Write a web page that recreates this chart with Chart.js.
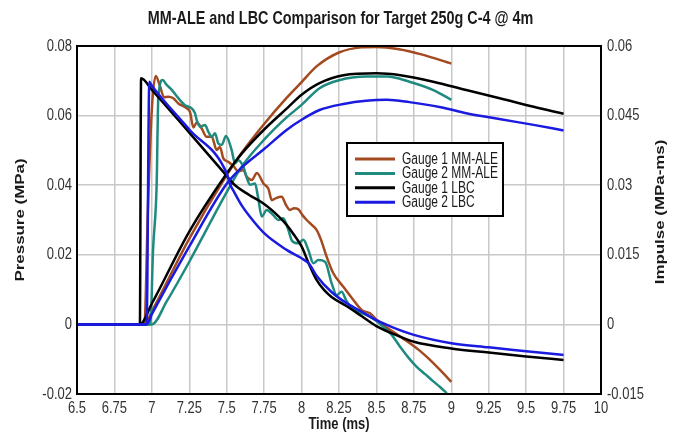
<!DOCTYPE html>
<html>
<head>
<meta charset="utf-8">
<script src="https://cdn.jsdelivr.net/npm/chart.js@4.4.1/dist/chart.umd.min.js"></script>
<style>
  html, body { margin: 0; padding: 0; background: #ffffff; }
  canvas { display: block; }
</style>
</head>
<body>
<canvas id="chart" width="681" height="432"></canvas>
<script>
// ---- data: [time (ms), value] ----
const seriesNames = ['Gauge 1 MM-ALE', 'Gauge 2 MM-ALE', 'Gauge 1 LBC', 'Gauge 2 LBC'];

// pressure (MPa)
const gauge1AlePressure = [[6.5,0],[6.95,0],[6.975,0.035],[7.0,0.062],[7.026,0.0714],[7.054,0.0685],[7.081,0.0653],[7.110,0.0654],[7.143,0.0650],[7.177,0.0635],[7.233,0.0621],[7.255,0.0610],[7.277,0.0566],[7.300,0.0580],[7.333,0.0563],[7.366,0.0539],[7.400,0.0539],[7.433,0.0501],[7.455,0.0510],[7.477,0.0477],[7.511,0.0467],[7.549,0.0453],[7.577,0.0439],[7.611,0.0444],[7.634,0.0424],[7.667,0.0415],[7.702,0.0435],[7.745,0.0405],[7.779,0.0389],[7.801,0.0357],[7.829,0.0363],[7.867,0.0367],[7.896,0.0343],[7.923,0.0329],[7.950,0.0334],[7.978,0.0331],[8.006,0.0314],[8.034,0.0300],[8.063,0.0288],[8.101,0.0271],[8.130,0.0243],[8.167,0.0195],[8.212,0.0147],[8.279,0.0108],[8.346,0.0070],[8.402,0.0041],[8.457,0.0032],[8.502,0.0013],[8.546,-0.0002],[8.604,-0.0019],[8.658,-0.0035],[8.724,-0.0054],[8.791,-0.0076],[8.858,-0.0102],[8.925,-0.0131],[9.0,-0.0165]];
const gauge2AlePressure = [[6.5,0],[6.99,0],[7.008,0.0214],[7.032,0.0401],[7.043,0.065],[7.072,0.0702],[7.099,0.0688],[7.133,0.0674],[7.177,0.0650],[7.221,0.0630],[7.266,0.0621],[7.288,0.0607],[7.300,0.0587],[7.322,0.0568],[7.355,0.0573],[7.377,0.0554],[7.400,0.0539],[7.422,0.0549],[7.444,0.0520],[7.467,0.0516],[7.495,0.0541],[7.533,0.0501],[7.555,0.0463],[7.577,0.0472],[7.611,0.0453],[7.634,0.0421],[7.656,0.0401],[7.689,0.0405],[7.709,0.0366],[7.734,0.0310],[7.767,0.0329],[7.811,0.0314],[7.845,0.0300],[7.878,0.0305],[7.912,0.0271],[7.936,0.0240],[7.978,0.0233],[8.012,0.0243],[8.045,0.0214],[8.078,0.0176],[8.112,0.0185],[8.157,0.0180],[8.201,0.0118],[8.235,0.0084],[8.268,0.0094],[8.297,0.0070],[8.324,0.0051],[8.377,0.0036],[8.435,0.0027],[8.491,0.0013],[8.546,-0.0007],[8.598,-0.0028],[8.658,-0.0064],[8.711,-0.0094],[8.769,-0.0122],[8.825,-0.0143],[8.878,-0.0163],[8.925,-0.0180],[8.97,-0.0198]];
const gauge1LbcPressure = [[6.5,0],[6.92,0],[6.928,0.0707],[7.0,0.0674],[7.25,0.0551],[7.48,0.0437],[7.55,0.0402],[7.65,0.0372],[7.75,0.0346],[7.85,0.0309],[7.9,0.0286],[7.95,0.0257],[8.0,0.0224],[8.05,0.0173],[8.1,0.0128],[8.15,0.0099],[8.2,0.0079],[8.3,0.0053],[8.4,0.0024],[8.5,-0.0005],[8.6,-0.0025],[8.75,-0.0050],[9.0,-0.0069],[9.25,-0.0081],[9.5,-0.0092],[9.75,-0.0102]];
const gauge2LbcPressure = [[6.5,0],[6.965,0],[6.983,0.0697],[7.0,0.0686],[7.25,0.0560],[7.5,0.0434],[7.52,0.0405],[7.55,0.0380],[7.6,0.0342],[7.65,0.0312],[7.75,0.0262],[7.9,0.0214],[8.0,0.0190],[8.05,0.0174],[8.1,0.0140],[8.2,0.0093],[8.3,0.0061],[8.4,0.0037],[8.5,0.0012],[8.6,-0.0007],[8.75,-0.0030],[9.0,-0.0054],[9.25,-0.0066],[9.5,-0.0077],[9.75,-0.0088]];

// impulse (MPa-ms)
const gauge1AleImpulse = [[6.5,0],[6.95,0],[7.0,0.0028],[7.25,0.0185],[7.5,0.0322],[7.6,0.0370],[7.75,0.0432],[7.9,0.0488],[8.0,0.0522],[8.1,0.0556],[8.25,0.0586],[8.4,0.0597],[8.5,0.0598],[8.65,0.0593],[8.8,0.0582],[9.0,0.0562]];
const gauge2AleImpulse = [[6.5,0],[7.0,0],[7.1,0.0050],[7.25,0.0135],[7.5,0.0285],[7.6,0.0340],[7.75,0.0398],[7.9,0.0446],[8.0,0.0473],[8.12,0.0509],[8.25,0.0526],[8.43,0.0534],[8.57,0.0534],[8.72,0.0523],[8.88,0.0505],[9.0,0.0484]];
const gauge1LbcImpulse = [[6.5,0],[6.92,0],[7.0,0.0045],[7.25,0.0200],[7.5,0.0325],[7.6,0.0368],[7.75,0.0420],[7.9,0.0465],[8.0,0.0495],[8.12,0.0520],[8.28,0.0537],[8.5,0.0541],[8.66,0.0537],[8.88,0.0523],[9.1,0.0505],[9.33,0.0487],[9.55,0.0469],[9.75,0.0454]];
const gauge2LbcImpulse = [[6.5,0],[6.965,0],[7.0,0.0022],[7.25,0.0168],[7.5,0.0303],[7.6,0.0338],[7.75,0.0378],[7.9,0.0419],[8.0,0.0441],[8.12,0.0462],[8.28,0.0475],[8.43,0.0482],[8.57,0.0484],[8.72,0.0479],[8.93,0.0468],[9.1,0.0455],[9.33,0.0442],[9.55,0.0430],[9.75,0.0418]];

// ---- axis ticks ----
const timeTicks = [6.5, 6.75, 7, 7.25, 7.5, 7.75, 8, 8.25, 8.5, 8.75, 9, 9.25, 9.5, 9.75, 10];
const timeTickLabels = ['6.5','6.75','7','7.25','7.5','7.75','8','8.25','8.5','8.75','9','9.25','9.5','9.75','10'];
const pressureTicks = [-0.02, 0, 0.02, 0.04, 0.06, 0.08];
const pressureTickLabels = ['-0.02','0','0.02','0.04','0.06','0.08'];
const impulseTicks = [-0.015, 0, 0.015, 0.03, 0.045, 0.06];
const impulseTickLabels = ['-0.015','0','0.015','0.03','0.045','0.06'];

// ---- styling ----
const seriesColors = ['#A34A20', '#1F8A80', '#000000', '#1A1AE0'];
const FONT = '"Liberation Sans", Arial, Helvetica, sans-serif';
Chart.defaults.font.family = FONT;

// all lettering on this chart uses a tall, narrow aspect: stretch every
// glyph run vertically (in page space) about its anchor point
const TEXT_STRETCH = 1.3;
const nativeFillText = CanvasRenderingContext2D.prototype.fillText;
CanvasRenderingContext2D.prototype.fillText = function (text, x, y, maxWidth) {
  const m = this.getTransform();
  const p = m.transformPoint(new DOMPoint(x, y));
  this.save();
  this.setTransform(new DOMMatrix().translate(p.x, p.y).scale(1, TEXT_STRETCH).translate(-p.x, -p.y).multiply(m));
  if (maxWidth === undefined) nativeFillText.call(this, text, x, y);
  else nativeFillText.call(this, text, x, y, maxWidth);
  this.restore();
};

const toPoints = (rows) => rows.map(([x, y]) => ({ x, y }));

const pressureSets = [gauge1AlePressure, gauge2AlePressure, gauge1LbcPressure, gauge2LbcPressure];
const impulseSets = [gauge1AleImpulse, gauge2AleImpulse, gauge1LbcImpulse, gauge2LbcImpulse];

const datasets = [];
// blue drawn on top, brown at the bottom
const drawOrder = [3, 2, 1, 0];
pressureSets.forEach((rows, i) => datasets.push({
  label: seriesNames[i], yAxisID: 'y', data: toPoints(rows),
  borderColor: seriesColors[i], borderWidth: 2.5, pointRadius: 0,
  cubicInterpolationMode: 'monotone', order: drawOrder[i]
}));
impulseSets.forEach((rows, i) => datasets.push({
  label: seriesNames[i], yAxisID: 'y2', data: toPoints(rows),
  borderColor: seriesColors[i], borderWidth: 2.5, pointRadius: 0,
  cubicInterpolationMode: 'monotone', order: drawOrder[i]
}));

const fixedTicks = (values) => (scale) => { scale.ticks = values.map(v => ({ value: v })); };

// plot frame, right-hand axis title and the legend box
const framePlugin = {
  id: 'framePlugin',
  afterDraw(chart) {
    const { ctx, chartArea: a } = chart;
    ctx.save();
    ctx.strokeStyle = '#000';
    ctx.lineWidth = 2;
    ctx.strokeRect(a.left, a.top, a.right - a.left, a.bottom - a.top);

    const rt = chart.options.scales.y2.title;
    ctx.save();
    ctx.font = 'bold 13px ' + FONT;
    ctx.fillStyle = '#1a1a1a';
    ctx.textAlign = 'center';
    ctx.textBaseline = 'middle';
    ctx.translate(660, (a.top + a.bottom) / 2 - 8);
    ctx.rotate(-Math.PI / 2);
    ctx.fillText(rt.text, 0, 0);
    ctx.restore();

    // legend
    const bx = 347, by = 143, bw = 156, bh = 73;
    ctx.fillStyle = '#fff';
    ctx.fillRect(bx, by, bw, bh);
    ctx.strokeStyle = '#000';
    ctx.lineWidth = 2;
    ctx.strokeRect(bx, by, bw, bh);
    ctx.font = '12px ' + FONT;
    ctx.textAlign = 'left';
    ctx.textBaseline = 'middle';
    seriesNames.forEach((name, i) => {
      const y = by + 16 + i * 14.4;
      ctx.strokeStyle = seriesColors[i];
      ctx.lineWidth = 3;
      ctx.beginPath();
      ctx.moveTo(bx + 8, y);
      ctx.lineTo(bx + 48, y);
      ctx.stroke();
      ctx.fillStyle = '#1a1a1a';
      ctx.fillText(name, bx + 55, y + 0.5);
    });
    ctx.restore();
  }
};

new Chart(document.getElementById('chart'), {
  type: 'line',
  data: { datasets },
  plugins: [framePlugin],
  options: {
    responsive: false,
    animation: false,
    events: [],
    layout: { padding: 0 },
    elements: { line: { tension: 0 } },
    plugins: {
      legend: { display: false },
      tooltip: { enabled: false },
      title: {
        display: true,
        text: 'MM-ALE and LBC Comparison for Target 250g C-4 @ 4m',
        color: '#1a1a1a',
        font: { size: 14.4, weight: 'bold', family: FONT, lineHeight: 1.2 },
        padding: { top: 10, bottom: 18.7 }
      }
    },
    scales: {
      x: {
        type: 'linear', min: 6.5, max: 10,
        afterBuildTicks: fixedTicks(timeTicks),
        afterFit: (s) => { s.height = 38; },
        ticks: {
          callback: (v, i) => timeTickLabels[i],
          color: '#333', font: { size: 13 }, padding: 7, maxRotation: 0, autoSkip: false
        },
        grid: { color: '#c8c8c8', lineWidth: 1.5, drawTicks: false },
        border: { display: false },
        title: { display: true, text: 'Time (ms)', color: '#1a1a1a', font: { size: 13, weight: 'bold' }, padding: { top: 0, bottom: 0 } }
      },
      y: {
        position: 'left', min: -0.02, max: 0.08,
        afterBuildTicks: fixedTicks(pressureTicks),
        afterFit: (s) => { s.width = 77; },
        ticks: { callback: (v, i) => pressureTickLabels[i], color: '#333', font: { size: 13 }, padding: 5 },
        grid: { color: '#c8c8c8', lineWidth: 1.5, drawTicks: false },
        border: { display: false },
        title: { display: true, text: 'Pressure (MPa)', color: '#1a1a1a', font: { size: 13, weight: 'bold' }, padding: { top: 13, bottom: 0 } }
      },
      y2: {
        position: 'right', min: -0.015, max: 0.06,
        afterBuildTicks: fixedTicks(impulseTicks),
        afterFit: (s) => { s.width = 80; },
        ticks: { callback: (v, i) => impulseTickLabels[i], color: '#333', font: { size: 13 }, padding: 6 },
        grid: { drawOnChartArea: false, drawTicks: false },
        border: { display: false },
        title: { display: false, text: 'Impulse (MPa-ms)' }
      }
    }
  }
});
</script>
</body>
</html>
